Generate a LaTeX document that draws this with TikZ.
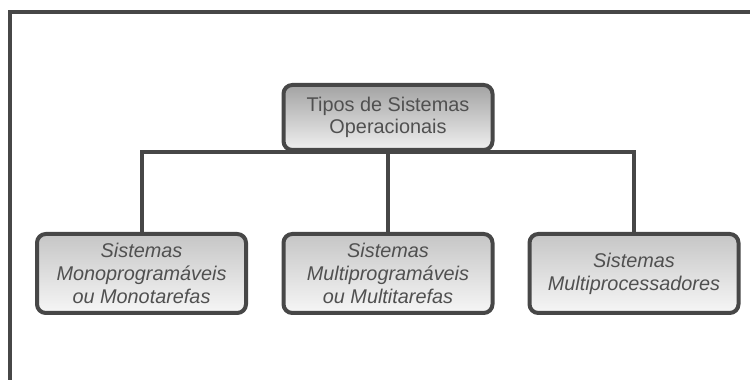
\documentclass[tikz,border=0pt]{standalone}
\usepackage{fontspec}
\setmainfont{Liberation Sans}
\usepackage{tikz}
\usetikzlibrary{positioning}
\definecolor{edgegray}{HTML}{474747}
\definecolor{textgray}{HTML}{505050}

\begin{document}
\begin{tikzpicture}[tipo/.style={rectangle,rounded corners=5pt,draw=edgegray,line width=0.08cm,top color=gray!72,bottom color=gray!12,text=textgray,align=center,minimum width=4.18cm,minimum height=1.3cm,font=\fontsize{11.3}{12.6}\selectfont}, sistema/.style={tipo,minimum height=1.58cm,top color=gray!45,bottom color=gray!7,font=\fontsize{11.3}{13}\selectfont\itshape}, conn/.style={draw=edgegray,line width=0.08cm}, node distance=1.6cm]
        \useasboundingbox (0,0) rectangle (15,7.6);
        \draw[conn] (0.2,-0.5) |- (15.5,7.36);
        \node[tipo] (tipos) at (7.76,5.25) {Tipos de Sistemas\\Operacionais};
        \node[sistema, below=of tipos] (multi) {Sistemas\\Multiprogramáveis\\ou Multitarefas};
        \node[sistema, left=0.67cm of multi] (mono) {Sistemas\\Monoprogramáveis\\ou Monotarefas};
        \node[sistema, right=0.66cm of multi] (proc) {Sistemas\\Multiprocessadores};
        \draw[conn] (tipos) -- ++(0,-0.7) coordinate (bus) -- (multi);
        \draw[conn] (mono) |- (bus) -| (proc);
    \end{tikzpicture}
\end{document}
